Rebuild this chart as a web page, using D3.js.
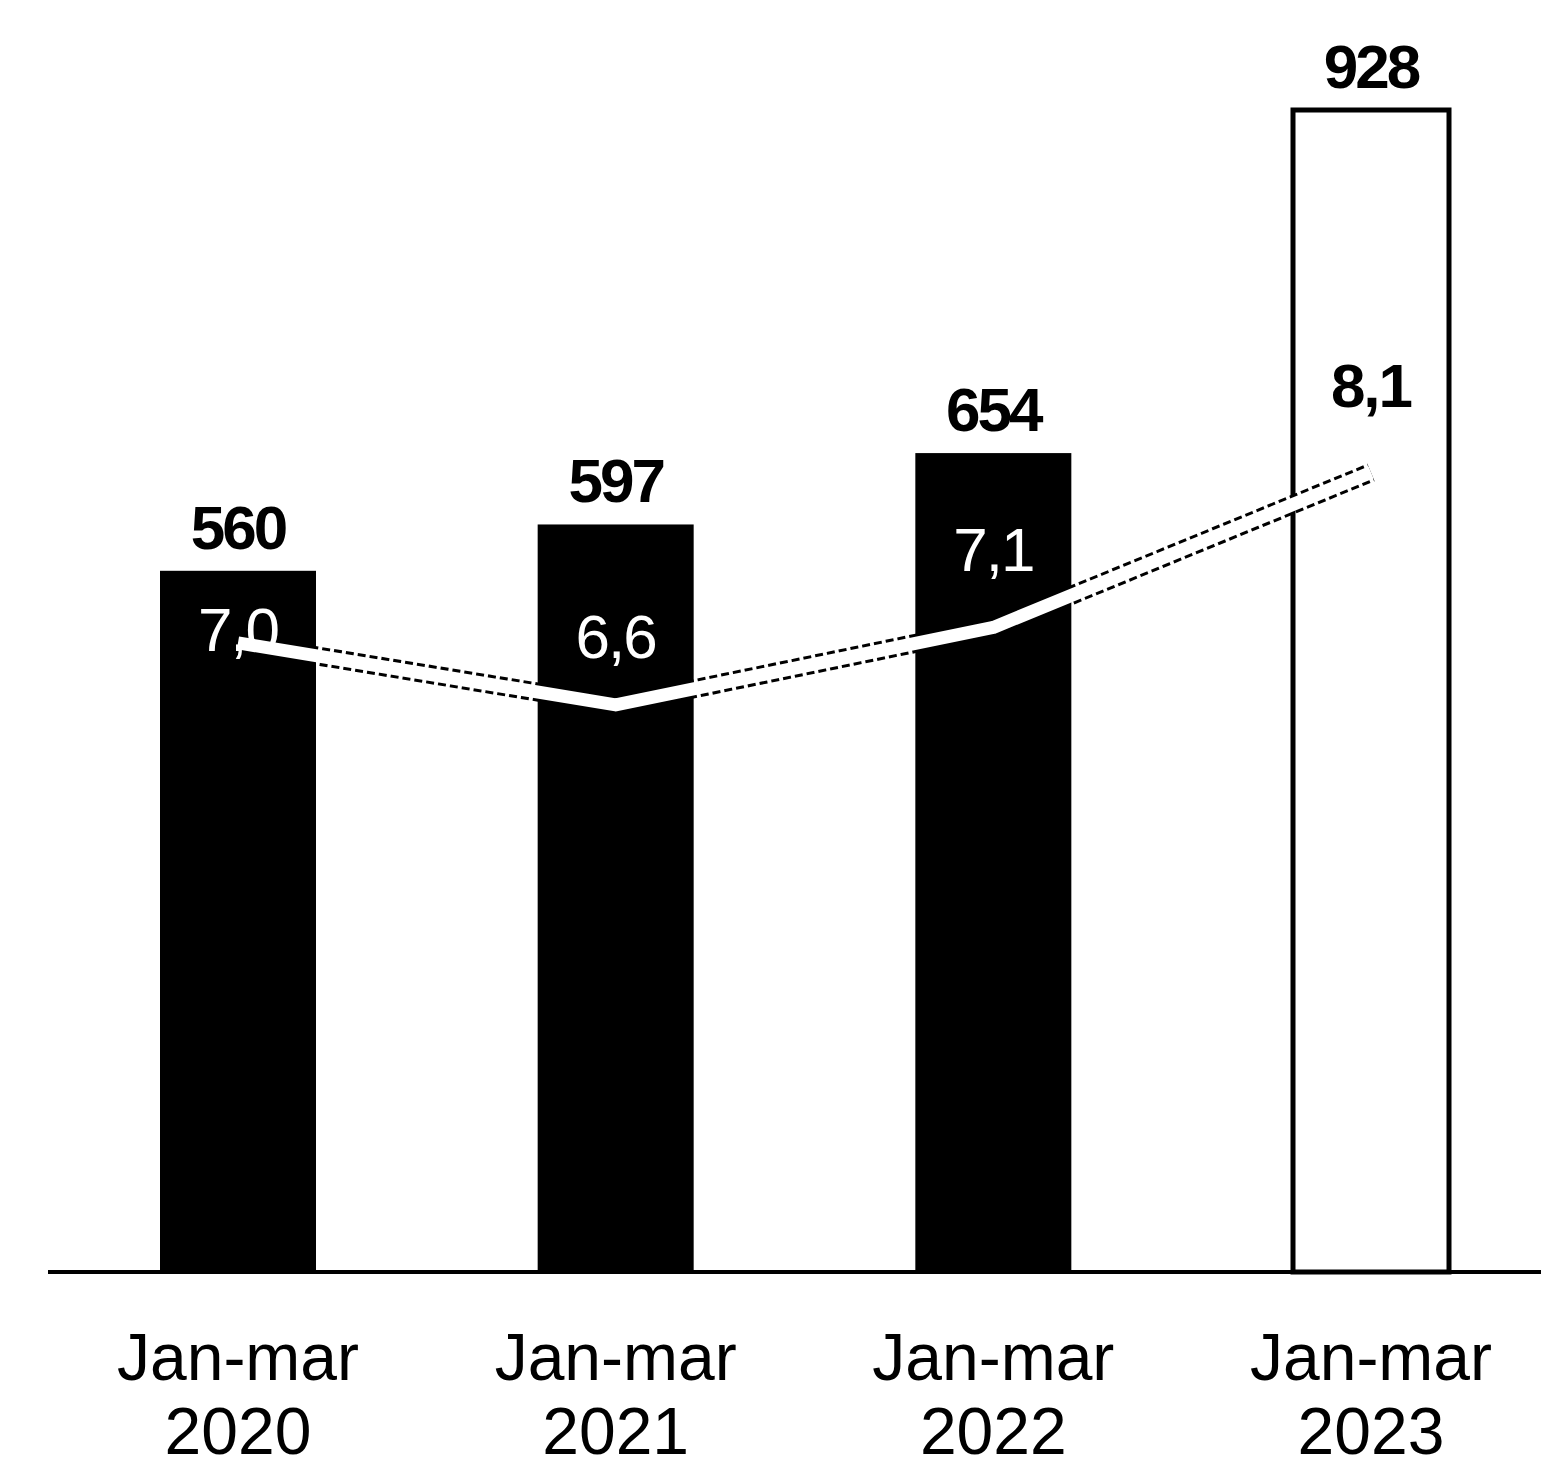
<!DOCTYPE html>
<html><head><meta charset="utf-8">
<script src="https://cdn.jsdelivr.net/npm/d3@7"></script>
<style>html,body{margin:0;padding:0;background:#fff;}svg{display:block;}</style>
</head><body>
<script>
const categories = ["Jan-mar 2020", "Jan-mar 2021", "Jan-mar 2022", "Jan-mar 2023"];
const barValues = [560, 597, 654, 928];
const lineValues = [7.0, 6.6, 7.1, 8.1];
const lineLabels = ["7,0", "6,6", "7,1", "8,1"];

const W = 1541, H = 1468;
const baseY = 1272;
const svg = d3.select("body").append("svg").attr("width", W).attr("height", H);
svg.append("rect").attr("width", W).attr("height", H).attr("fill", "#fff");

const x = d3.scalePoint().domain(categories).range([238, 1371]);
const bw = 156;
const y = d3.scaleLinear().domain([0, 928]).range([baseY, 110]);
const yL = d3.scaleLinear().domain([2.94, 9.0]).range([baseY, 333]);

const font = "'Liberation Sans', Arial, sans-serif";

// bars
svg.selectAll("rect.bar").data(barValues).enter().append("rect")
  .attr("x", (d, i) => x(categories[i]) - bw / 2)
  .attr("y", d => y(d))
  .attr("width", bw)
  .attr("height", d => baseY - y(d))
  .attr("fill", (d, i) => i === 3 ? "#fff" : "#000")
  .attr("stroke", "#000")
  .attr("stroke-width", (d, i) => i === 3 ? 5 : 0);

// axis line
svg.append("line").attr("x1", 48).attr("x2", W).attr("y1", baseY).attr("y2", baseY)
  .attr("stroke", "#000").attr("stroke-width", 4);

// line
const line = d3.line().x((d, i) => x(categories[i])).y(d => yL(d)).curve(d3.curveLinear);
svg.append("path").datum(lineValues).attr("d", line).attr("fill", "none")
  .attr("stroke", "#000").attr("stroke-width", 19).attr("stroke-dasharray", "8,4");
svg.append("path").datum(lineValues).attr("d", line).attr("fill", "none")
  .attr("stroke", "#fff").attr("stroke-width", 13).attr("stroke-linejoin", "round");

// bar value labels
svg.selectAll("text.bv").data(barValues).enter().append("text")
  .attr("x", (d, i) => x(categories[i]))
  .attr("y", d => y(d) - 22)
  .attr("text-anchor", "middle")
  .attr("font-family", font).attr("font-weight", "bold").attr("font-size", 62)
  .attr("letter-spacing", -3)
  .attr("fill", "#000")
  .text(d => d);

// line value labels
const lineLabelDy = [8, -47, -56, -65];
svg.selectAll("text.lv").data(lineValues).enter().append("text")
  .attr("x", (d, i) => x(categories[i]))
  .attr("y", (d, i) => yL(d) + lineLabelDy[i])
  .attr("text-anchor", "middle")
  .attr("font-family", font).attr("font-size", 62)
  .attr("font-weight", (d, i) => i === 3 ? "bold" : "normal")
  .attr("letter-spacing", -2)
  .attr("fill", (d, i) => i === 3 ? "#000" : "#fff")
  .text((d, i) => lineLabels[i]);

// x labels
const xl = svg.selectAll("text.xl").data(categories).enter().append("text")
  .attr("text-anchor", "middle")
  .attr("font-family", font).attr("font-size", 66)
  .attr("fill", "#000");
xl.append("tspan").attr("x", d => x(d)).attr("y", 1380).text(d => d.split(" ")[0]);
xl.append("tspan").attr("x", d => x(d)).attr("y", 1454).text(d => d.split(" ")[1]);
</script>
</body></html>
